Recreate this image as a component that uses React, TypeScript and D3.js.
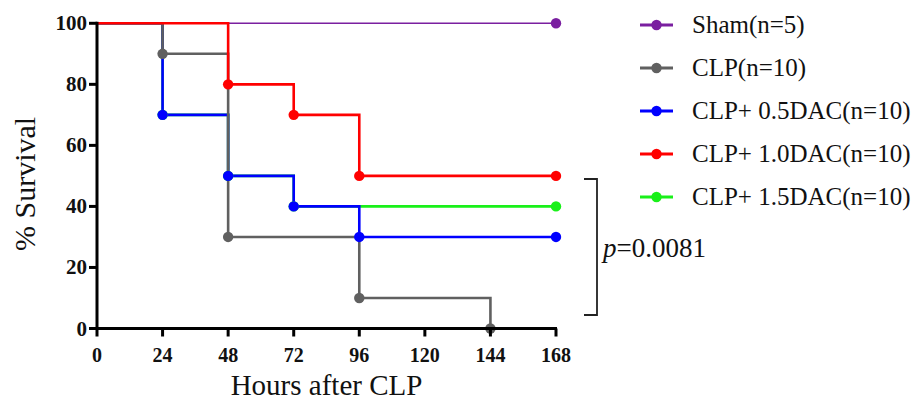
import React from "react";
import * as d3 from "d3";

const xTicks = [0, 24, 48, 72, 96, 120, 144, 168];
const yTicks = [0, 20, 40, 60, 80, 100];

const seriesNames = [
  "Sham(n=5)",
  "CLP(n=10)",
  "CLP+ 0.5DAC(n=10)",
  "CLP+ 1.0DAC(n=10)",
  "CLP+ 1.5DAC(n=10)",
];
const seriesColors = ["#7A1FA0", "#606060", "#0000FF", "#FF0000", "#19F019"];
const seriesWidths = [1.6, 2.6, 2.6, 2.6, 2.6];

const shamTimes = [0, 168];
const shamSurv = [100, 100];
const clpTimes = [0, 24, 48, 96, 144];
const clpSurv = [100, 90, 30, 10, 0];
const dac05Times = [0, 24, 48, 72, 96, 168];
const dac05Surv = [100, 70, 50, 40, 30, 30];
const dac10Times = [0, 48, 72, 96, 168];
const dac10Surv = [100, 80, 70, 50, 50];
const dac15Times = [0, 24, 48, 72, 168];
const dac15Surv = [100, 70, 50, 40, 40];

const seriesTimes = [shamTimes, clpTimes, dac05Times, dac10Times, dac15Times];
const seriesSurv = [shamSurv, clpSurv, dac05Surv, dac10Surv, dac15Surv];
// bottom-to-top drawing order
const drawOrder = [0, 4, 2, 1, 3];

const pLabel = "0.0081";

export default function App() {
  const W = 921;
  const H = 402;
  const x = d3.scaleLinear().domain([0, 168]).range([97, 556]);
  const y = d3.scaleLinear().domain([0, 100]).range([328.5, 23.3]);
  const line = d3
    .line<[number, number]>()
    .x((d) => x(d[0]))
    .y((d) => y(d[1]))
    .curve(d3.curveStepAfter);

  const serif = "'Liberation Serif', 'Times New Roman', serif";
  const pts = (i: number) =>
    seriesTimes[i].map((t, j) => [t, seriesSurv[i][j]] as [number, number]);

  const legendY = d3.scalePoint<number>().domain([0, 1, 2, 3, 4]).range([25, 197]);

  return (
    <svg
      width={W}
      height={H}
      style={{ position: "absolute", left: 0, top: 0, background: "#fff" }}
      fontFamily={serif}
    >
      {/* lines */}
      {drawOrder.map((i) => (
        <path
          key={"l" + i}
          d={line(pts(i)) || ""}
          fill="none"
          stroke={seriesColors[i]}
          strokeWidth={seriesWidths[i]}
        />
      ))}
      {/* markers */}
      {drawOrder.map((i) =>
        pts(i)
          .filter((d) => d[0] > 0)
          .map((d, j) => (
            <circle
              key={"m" + i + "-" + j}
              cx={x(d[0])}
              cy={y(d[1])}
              r={5.2}
              fill={seriesColors[i]}
            />
          ))
      )}
      {/* axes */}
      <line x1={x(0)} x2={x(0)} y1={y(100) - 1.5} y2={y(0) + 1.5} stroke="#000" strokeWidth={3} />
      <line x1={x(0) - 1.5} x2={x(168) + 1} y1={y(0)} y2={y(0)} stroke="#000" strokeWidth={3} />
      {yTicks.map((t) => (
        <g key={"yt" + t}>
          <line x1={x(0) - 8} x2={x(0)} y1={y(t)} y2={y(t)} stroke="#000" strokeWidth={3} />
          <text
            x={x(0) - 10}
            y={y(t) + 7}
            textAnchor="end"
            fontSize={21}
            fontWeight="bold"
            fill="#111"
          >
            {t}
          </text>
        </g>
      ))}
      {xTicks.map((t) => (
        <g key={"xt" + t}>
          <line x1={x(t)} x2={x(t)} y1={y(0)} y2={y(0) + 8} stroke="#000" strokeWidth={3} />
          <text
            x={x(t)}
            y={362}
            textAnchor="middle"
            fontSize={20}
            fontWeight="bold"
            fill="#111"
          >
            {t}
          </text>
        </g>
      ))}
      <text x={(x(0) + x(168)) / 2} y={395} textAnchor="middle" fontSize={29} fill="#111">
        Hours after CLP
      </text>
      <text
        transform={`translate(35, ${(y(0) + y(100)) / 2 + 8}) rotate(-90)`}
        textAnchor="middle"
        fontSize={30}
        fill="#111"
      >
        % Survival
      </text>
      {/* bracket */}
      <path d="M584,179 H597 V315 H584" fill="none" stroke="#222" strokeWidth={1.8} />
      <text x={603} y={257} fontSize={27} fill="#111">
        <tspan fontStyle="italic">p</tspan>={pLabel}
      </text>
      {/* legend */}
      {seriesNames.map((name, i) => (
        <g key={"lg" + i} transform={`translate(0, ${legendY(i)})`}>
          <line x1={640} x2={673} y1={0} y2={0} stroke={seriesColors[i]} strokeWidth={3} />
          <circle cx={656.5} cy={0} r={5.2} fill={seriesColors[i]} />
          <text x={692} y={8} fontSize={25} fill="#111">
            {name}
          </text>
        </g>
      ))}
    </svg>
  );
}
